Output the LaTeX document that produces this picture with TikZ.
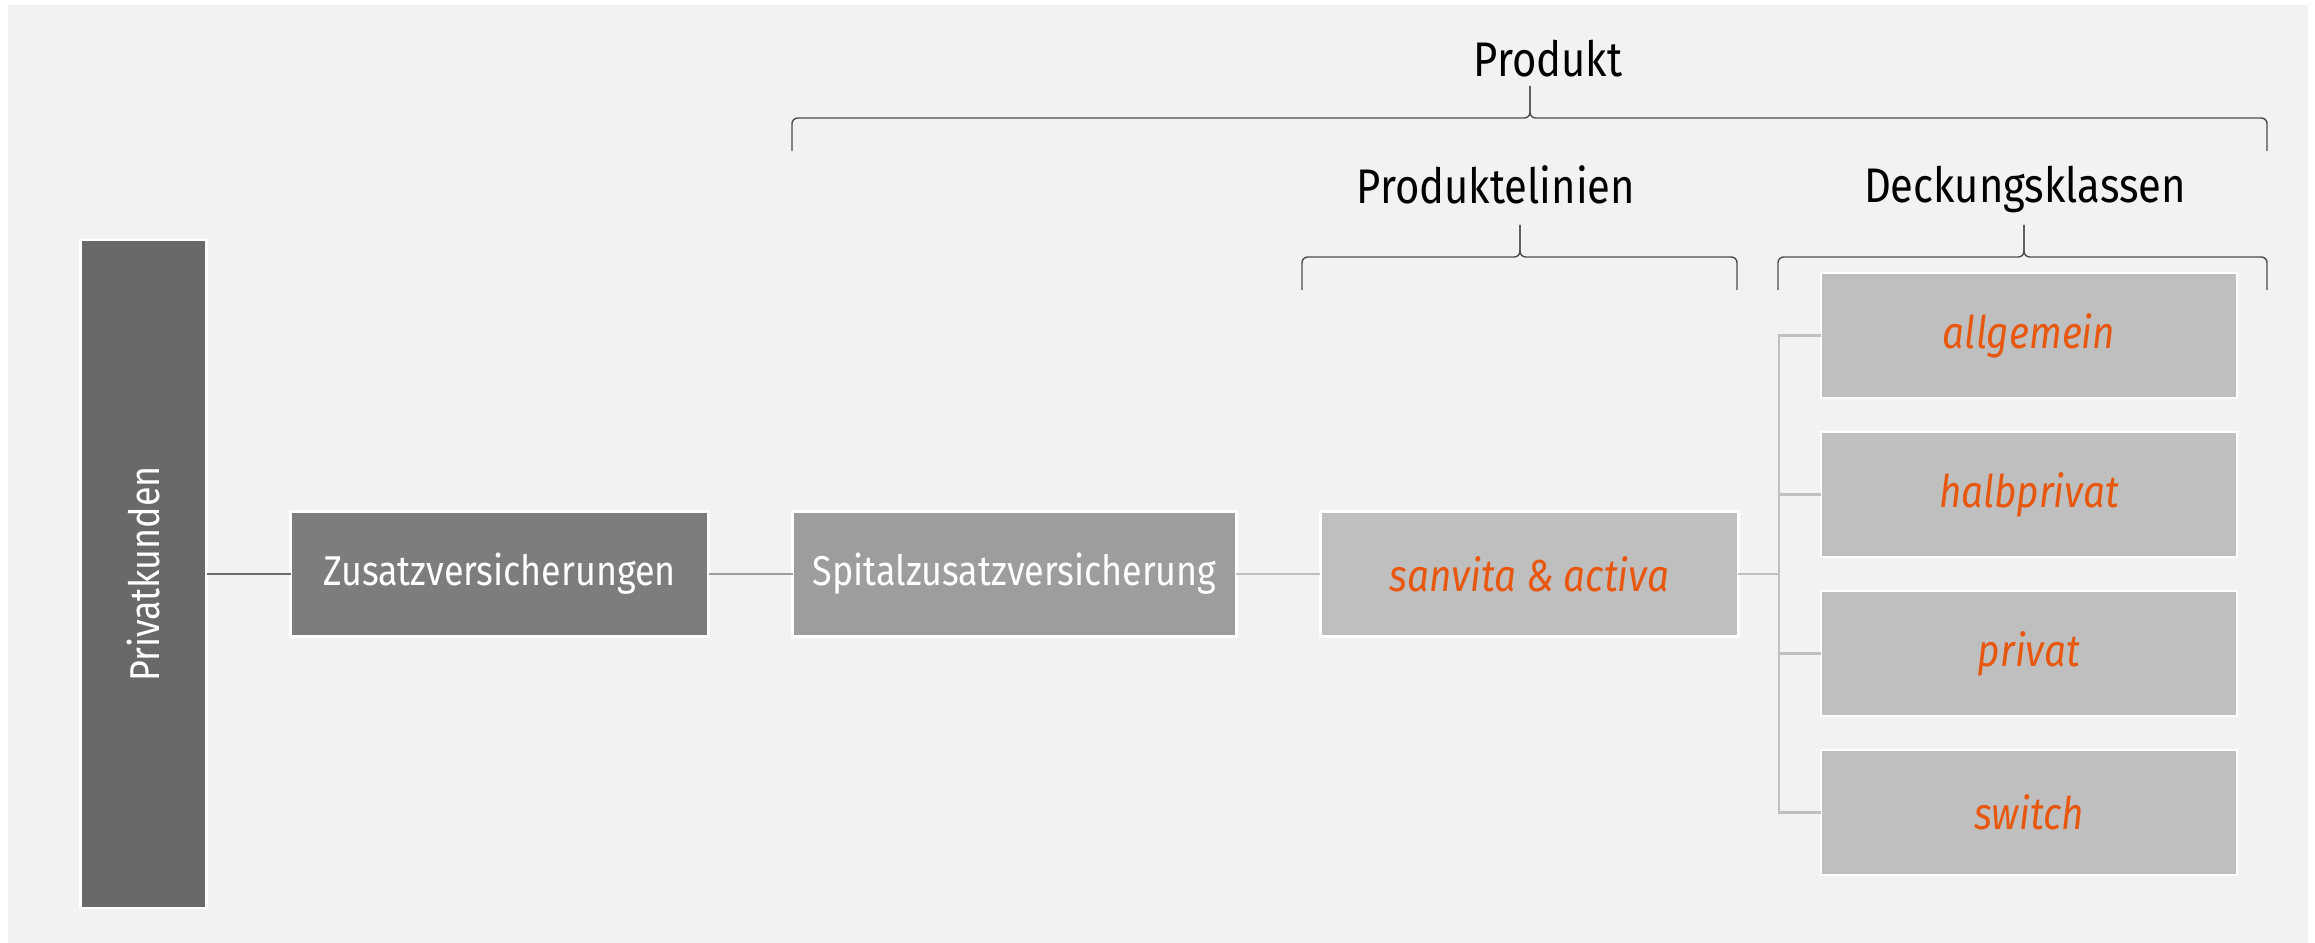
\documentclass[tikz,border=0pt]{standalone}
\usepackage{fontspec}
\setmainfont{Fira Sans}[FakeStretch=0.86]
\usepackage{tikz}
\usetikzlibrary{positioning}
\definecolor{hintergrund}{HTML}{F2F2F2}
\definecolor{grau1}{HTML}{696967}
\definecolor{grau2}{HTML}{7D7D7B}
\definecolor{grau3}{HTML}{9D9D9B}
\definecolor{grau4}{HTML}{BFBFBF}
\definecolor{akzent}{HTML}{E8570E}
\tikzstyle{kasten} = [draw=white, line width=1pt, inner sep=0pt, outer sep=0pt, text=white, minimum width=146.3pt, minimum height=43.75pt, font=\fontsize{14.6}{17}\selectfont]
\tikzstyle{klasse} = [kasten, fill=grau4, text=akzent, font=\fontsize{15.7}{18}\selectfont\itshape]
\tikzstyle{titel} = [inner sep=0pt, font=\fontsize{17}{19}\selectfont]
\tikzstyle{linie} = [line width=1pt]
\tikzstyle{klammer} = [draw=black!70, line width=0.5pt, rounded corners=2pt]

\begin{document}
\begin{tikzpicture}[x=0.35pt, y=-0.35pt]
    \fill[hintergrund] (8,5) rectangle (2308,943);
    \useasboundingbox (0,0) rectangle (2315,943);

    % Kunden und Sparten
    \node[kasten, fill=grau1, rotate=90, minimum width=233.8pt, minimum height=44.1pt] (privat) at (143.5,574) {Privatkunden};
    \node[kasten, fill=grau2] (zusatz) at (499.5,574) {Zusatzversicherungen};
    \node[kasten, fill=grau3, minimum width=155.4pt, right=29.4pt of zusatz] (spital) {Spitalzusatzversicherung};
    \node[klasse, right=29.4pt of spital] (sanvita) {sanvita \& activa};

    % Deckungsklassen
    \foreach \txt [count=\i] in {allgemein, halbprivat, privat, switch}{
        \node[klasse, minimum width=145.6pt] (klasse\i) at (2029,{176.5+159*\i}) {\txt};
    }

    % Verbindungen
    \coordinate (verteiler) at (1779,574);
    \draw[linie, grau1] (privat) -- (zusatz);
    \draw[linie, grau3] (zusatz) -- (spital);
    \draw[linie, grau4] (spital) -- (sanvita);
    \draw[linie, grau4] (sanvita) -- (verteiler);
    \draw[linie, grau4] (klasse1.west) -| (verteiler) |- (klasse4.west);
    \foreach \i in {2,3}{
        \draw[linie, grau4] (klasse\i.west) -- (klasse\i.west -| verteiler);
    }

    % Klammern
    \foreach \xa/\xm/\xb/\yh in {792/1530/2267/118, 1302/1520/1737/257, 1778/2024/2267/257}{
        \draw[klammer] (\xa,{\yh+33}) |- (\xm,\yh) -- (\xm,{\yh-32});
        \draw[klammer] (\xb,{\yh+33}) |- (\xm,\yh) -- (\xm,{\yh-32});
    }
    \node[titel, anchor=base] (produkt) at (1548,77) {Produkt};
    \node[titel, anchor=base] (linien) at (1496,204) {Produktelinien};
    \node[titel, anchor=base] (klassen) at (2025,203) {Deckungsklassen};
\end{tikzpicture}
\end{document}
